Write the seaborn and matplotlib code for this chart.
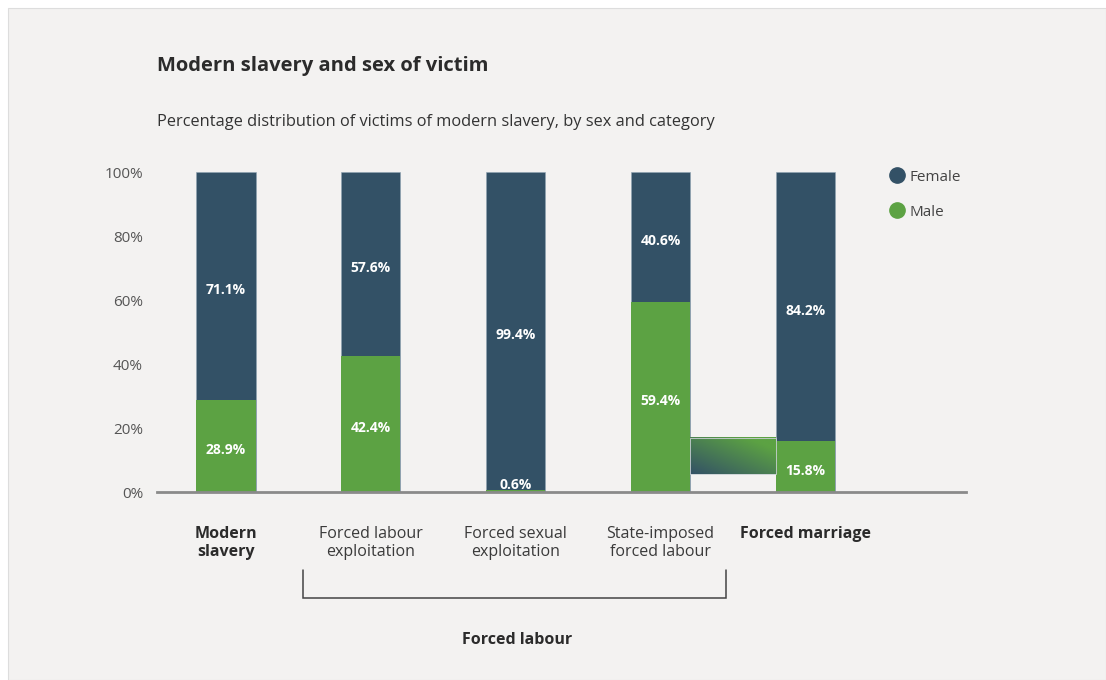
import numpy as np
import pandas as pd
import matplotlib
matplotlib.use("Agg")
import matplotlib.pyplot as plt
from matplotlib.patches import Rectangle
from matplotlib.lines import Line2D
from matplotlib.colors import LinearSegmentedColormap
import seaborn as sns

# ---- data ----
categories = ["Modern slavery", "Forced labour exploitation", "Forced sexual exploitation",
              "State-imposed forced labour", "Forced marriage"]
cat_labels = ["Modern\nslavery", "Forced labour\nexploitation", "Forced sexual\nexploitation",
              "State-imposed\nforced labour", "Forced marriage"]
bold_cats = [True, False, False, False, True]
female = [71.1, 57.6, 99.4, 40.6, 84.2]
male = [28.9, 42.4, 0.6, 59.4, 15.8]
yticks = [0, 20, 40, 60, 80, 100]
group_label = "Forced labour"

FEMALE_C = "#335166"
MALE_C = "#5ca243"
BG = "#f3f2f1"
TXT = "#2b2b2b"
GRAY = "#555555"

sns.set_theme(style="white")
plt.rcParams["font.family"] = ["Open Sans", "DejaVu Sans"]

df = pd.DataFrame({"cat": categories, "female": female, "male": male})
df["total"] = df["female"] + df["male"]

fig = plt.figure(figsize=(11.06, 6.8), dpi=100)
fig.patch.set_facecolor("white")
fig.patches.append(Rectangle((8 / 1106, 0), 1 - 8 / 1106, 1 - 8 / 680, transform=fig.transFigure,
                             facecolor=BG, edgecolor="#dddddd", linewidth=0.8, zorder=-10))

ax = fig.add_axes([157 / 1106, 1 - 492 / 680, (966 - 157) / 1106, (492 - 172) / 680])
ax.set_facecolor("none")

W = 0.41
sns.barplot(data=df, x="cat", y="total", color=FEMALE_C, saturation=1, width=W, ax=ax,
            edgecolor="#8fa3b3", linewidth=0.4)
sns.barplot(data=df, x="cat", y="male", color=MALE_C, saturation=1, width=W, ax=ax,
            edgecolor="none", linewidth=0)

ax.set_xlim(-0.476, 5.11)
ax.set_ylim(0, 100)
ax.set_yticks(yticks)
ax.set_yticklabels([f"{t}%" for t in yticks], fontsize=11, color=GRAY)
ax.tick_params(axis="y", length=0, pad=10)
ax.set_xticks([])
ax.set_xlabel("")
ax.set_ylabel("")
for s in ["top", "right", "left"]:
    ax.spines[s].set_visible(False)
ax.spines["bottom"].set_color("#8a8a8a")
ax.spines["bottom"].set_linewidth(2)

# value labels
for i, (f, m) in enumerate(zip(female, male)):
    ax.text(i, m + f / 2 - 1.3, f"{f:.1f}%", ha="center", va="center", color="white",
            fontsize=10, fontweight="bold")
    ym = max(m / 2 - 1.3, 2.2)
    ax.text(i, ym, f"{m:.1f}%", ha="center", va="center", color="white",
            fontsize=10, fontweight="bold")

# gradient connector between bars 4 and 5
cmap = LinearSegmentedColormap.from_list("g", [FEMALE_C, MALE_C])
gx, gy = np.meshgrid(np.linspace(0, 1, 100), np.linspace(0, 1, 50))
grad = np.clip((gx + (1 - gy)) / 2 * 1.2, 0, 1)
x0, x1 = 3 + W / 2, 4 - W / 2
ax.imshow(grad, cmap=cmap, extent=[x0, x1, 5.6, male[4] + 1.1], origin="upper",
          aspect="auto", zorder=1.5)
ax.add_patch(Rectangle((x0, 5.6), x1 - x0, male[4] + 1.1 - 5.6, fill=False,
                       edgecolor="#c9d0d4", linewidth=0.6, zorder=1.6))

# category labels
for i, (lab, b) in enumerate(zip(cat_labels, bold_cats)):
    ax.text(i, -10.6, lab, ha="center", va="top", fontsize=11.5,
            fontweight="bold" if b else "normal", color=TXT if b else "#3a3a3a",
            linespacing=1.2, clip_on=False)

# bracket for forced labour group
bx0, bx1 = 1 - 0.47, 3 + 0.455
ax.plot([bx0, bx0, bx1, bx1], [-24.5, -33.1, -33.1, -24.5], color="#444444", lw=1.1,
        clip_on=False, solid_joinstyle="miter")
ax.text((1 + 3) / 2 + 0.01, -46.2, group_label, ha="center", va="center", fontsize=11.5,
        fontweight="bold", color=TXT, clip_on=False)

# legend
handles = [Line2D([], [], marker="o", linestyle="none", markersize=11, color=FEMALE_C),
           Line2D([], [], marker="o", linestyle="none", markersize=11, color=MALE_C)]
fig.legend(handles, ["Female", "Male"], loc="upper left", bbox_to_anchor=(874 / 1106, 1 - 156 / 680),
           frameon=False, fontsize=11, labelcolor="#444444", handletextpad=0.25,
           labelspacing=1.3, handlelength=1.2)

# titles
fig.text(157 / 1106, 1 - 66 / 680, "Modern slavery and sex of victim", ha="left", va="center",
         fontsize=14.5, fontweight="bold", color=TXT)
fig.text(157 / 1106, 1 - 122 / 680,
         "Percentage distribution of victims of modern slavery, by sex and category",
         ha="left", va="center", fontsize=11.75, color="#333333")

fig.savefig("out.png", dpi=100, facecolor=fig.get_facecolor())
